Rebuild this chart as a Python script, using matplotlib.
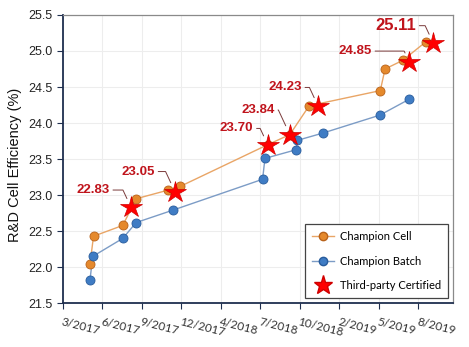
import matplotlib
matplotlib.use('Agg')
import matplotlib.pyplot as plt
from matplotlib.lines import Line2D

# x positions are in "tick units" (the axis labels are not evenly spaced dates)
tick_labels = ['3/2017', '6/2017', '9/2017', '12/2017', '4/2018',
               '7/2018', '10/2018', '2/2019', '5/2019', '8/2019']

cell_x = [0.69, 0.78, 1.52, 1.86, 2.67, 2.97, 5.19, 5.75, 6.24, 8.04, 8.16, 8.61, 9.20]
cell_y = [22.04, 22.43, 22.58, 22.95, 23.07, 23.12, 23.70, 23.84, 24.24, 24.45, 24.75, 24.87, 25.13]

batch_x = [0.69, 0.76, 1.52, 1.86, 2.78, 5.06, 5.12, 5.91, 5.94, 6.58, 8.03, 8.77]
batch_y = [21.82, 22.15, 22.40, 22.62, 22.79, 23.22, 23.51, 23.63, 23.76, 23.86, 24.11, 24.33]

cert_x = [1.73, 2.84, 5.19, 5.75, 6.47, 8.77, 9.38]
cert_y = [22.83, 23.05, 23.70, 23.84, 24.23, 24.85, 25.11]

plt.rcParams['font.family'] = ['Liberation Sans', 'DejaVu Sans']

fig = plt.figure(figsize=(4.69, 3.47), dpi=100)
ax = fig.add_axes([0.1337, 0.126, 0.833, 0.831])

orange = '#E5892C'
blue = '#3F7CC4'

ax.plot(cell_x, cell_y, '-', color='#E9A566', lw=1.0, zorder=3)
ax.plot(cell_x, cell_y, 'o', color=orange, mec='#B8621A', mew=0.6, ms=6.5, zorder=4)
ax.plot(batch_x, batch_y, '-', color='#7C9CC6', lw=1.0, zorder=3)
ax.plot(batch_x, batch_y, 'o', color=blue, mec='#285C9C', mew=0.6, ms=6.5, zorder=4)
ax.plot(cert_x, cert_y, '*', color='#FF0000', mec='#D00000', mew=0.5, ms=16, zorder=5)

# label offsets (points) from each star
offsets = [(-15.5, 12.5), (-14.5, 14.4), (-10.5, 11.7), (-11, 17.7),
           (-12, 13.7), (-27, 7.7), (-12.5, 12.5)]
for i, (x, y) in enumerate(zip(cert_x, cert_y)):
    big = i == len(cert_x) - 1
    ax.annotate('%.2f' % y, xy=(x, y), xytext=offsets[i], textcoords='offset points',
                ha='right', va='center', color='#C0141C', fontweight='bold',
                fontsize=12 if big else 9.5,
                arrowprops=dict(arrowstyle='-', color='#7A3A3A', lw=0.7,
                                connectionstyle='angle,angleA=0,angleB=115,rad=0',
                                shrinkA=0.5, shrinkB=7),
                zorder=6)

ax.set_xlim(0, 9.89)
ax.set_ylim(21.5, 25.5)
ax.set_xticks(range(len(tick_labels)))
ax.set_xticklabels(tick_labels, rotation=-14, ha='left', rotation_mode='anchor',
                   fontsize=8.5, family='Lato', color='#333333')
ax.set_yticks([21.5 + 0.5 * i for i in range(9)])
ax.set_yticklabels(['%.1f' % (21.5 + 0.5 * i) for i in range(9)], fontsize=9, color='#222222')
ax.tick_params(axis='x', length=4, pad=5, color='#1F2F4F')
ax.tick_params(axis='y', length=4, color='#1F2F4F')
ax.set_ylabel('R&D Cell Efficiency (%)', fontsize=10.5, color='#111111')
ax.yaxis.set_label_coords(-0.103, 0.48)

ax.grid(True, color='#EDEDED', lw=0.8)
ax.set_axisbelow(True)
for side in ['left', 'bottom']:
    ax.spines[side].set_color('#1F2F4F')
    ax.spines[side].set_linewidth(1.3)
for side in ['top', 'right']:
    ax.spines[side].set_color('#8A8A8A')
    ax.spines[side].set_linewidth(0.9)

handles = [
    Line2D([], [], color='#E9A566', marker='o', mfc=orange, mec='#B8621A', ms=6, lw=1),
    Line2D([], [], color='#7C9CC6', marker='o', mfc=blue, mec='#285C9C', ms=6, lw=1),
    Line2D([], [], color='none', marker='*', mfc='#FF0000', mec='#D00000', ms=14),
]
leg = ax.legend(handles, ['Champion Cell', 'Champion Batch', 'Third-party Certified'],
                loc='lower right', bbox_to_anchor=(0.987, 0.018), borderaxespad=0,
                fancybox=False, framealpha=1, edgecolor='#444444',
                prop={'family': 'Lato', 'size': 8},
                handlelength=2.0, labelspacing=1.2, borderpad=0.65, handletextpad=0.5)
leg.get_frame().set_linewidth(0.9)

fig.savefig('out.png', dpi=100)
